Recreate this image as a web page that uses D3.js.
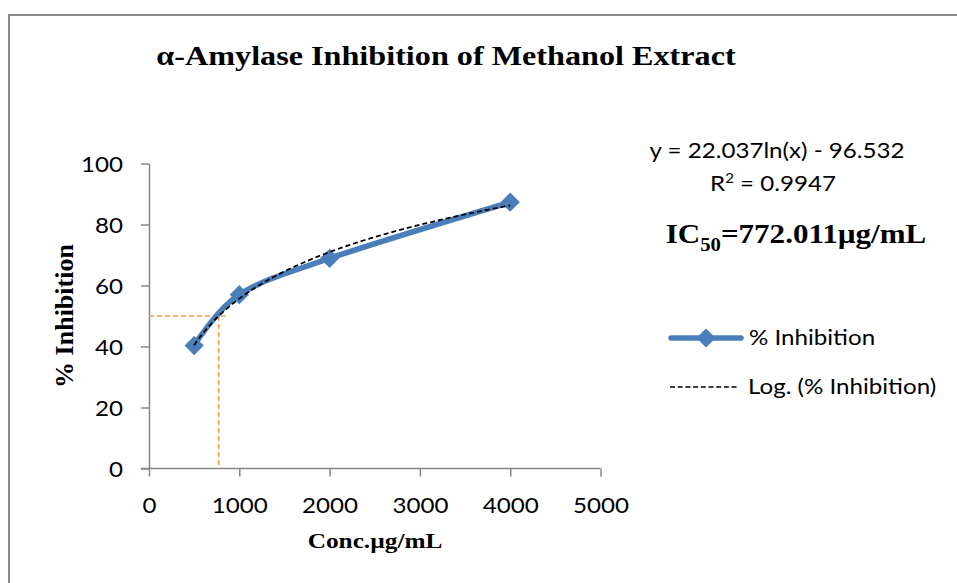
<!DOCTYPE html>
<html>
<head>
<meta charset="utf-8">
<script src="https://cdn.jsdelivr.net/npm/d3@7"></script>
<style>
  html, body { margin: 0; padding: 0; background: #fff; }
  svg { display: block; }
</style>
</head>
<body>
<svg id="chart" width="957" height="583"></svg>
<script>
// Concentrations tested (µg/mL) and measured inhibition (%)
const concentrations = [500, 1000, 2000, 4000];
const inhibition = [40.3, 57.0, 68.9, 87.3];

// Logarithmic trendline coefficients: y = a·ln(x) + b
const trendA = 22.037;
const trendB = -96.532;
const rSquared = 0.9947;

// IC50 guide lines
const ic50 = 772.011;
const ic50Level = 50;

const xTicks = [0, 1000, 2000, 3000, 4000, 5000];
const yTicks = [0, 20, 40, 60, 80, 100];

const svg = d3.select("#chart");
const sansFont = "Lato, Open Sans, sans-serif";
const serifFont = "Liberation Serif, Times New Roman, serif";
const stretch = 1.15;
const sansStretch = 1.15;
const sansSize = 21;

// chart frame
svg.append("rect")
  .attr("x", 9).attr("y", 15)
  .attr("width", 960).attr("height", 580)
  .attr("fill", "#fff")
  .attr("stroke", "#8a8a8a")
  .attr("stroke-width", 2);

const x = d3.scaleLinear().domain([0, 5000]).range([149, 600.5]);
const y = d3.scaleLinear().domain([0, 100]).range([468.5, 163.5]);

// helper for horizontally widened text
function label(txt, px, py, opts) {
  const g = svg.append("g").attr("transform", `translate(${px},${py}) scale(${opts.sx || 1},1)`);
  const t = g.append("text")
    .attr("text-anchor", opts.anchor || "middle")
    .attr("font-family", opts.font)
    .attr("font-size", opts.size)
    .attr("font-weight", opts.weight || "normal")
    .attr("fill", "#000");
  if (opts.rotate) t.attr("transform", `rotate(${opts.rotate})`);
  t.text(txt);
  return t;
}

// title
label("α-Amylase Inhibition of Methanol Extract", 446, 65,
  { font: serifFont, size: 28, weight: "bold", sx: stretch });

// axes
const axisColor = "#868686";
const xAxis = svg.append("g")
  .attr("transform", `translate(0,${y(0)})`)
  .call(d3.axisBottom(x).tickValues(xTicks).tickSize(8).tickSizeOuter(0).tickFormat(d3.format("d")));
const yAxis = svg.append("g")
  .attr("transform", `translate(${x(0)},0)`)
  .call(d3.axisLeft(y).tickValues(yTicks).tickSize(8).tickSizeOuter(0).tickFormat(d3.format("d")));

[xAxis, yAxis].forEach(a => {
  a.select(".domain").attr("stroke", axisColor).attr("stroke-width", 1.5);
  a.selectAll(".tick line").attr("stroke", axisColor).attr("stroke-width", 1.5);
  a.selectAll(".tick text")
    .attr("font-family", sansFont)
    .attr("font-size", sansSize)
    .attr("fill", "#000");
});
// widen tick labels around their own anchor points
xAxis.selectAll(".tick text")
  .attr("dy", null).attr("y", null)
  .attr("transform", `translate(0,44) scale(${sansStretch},1)`);
yAxis.selectAll(".tick text")
  .attr("x", null).attr("dy", "0.36em")
  .attr("transform", `translate(-26,0) scale(${sansStretch},1)`);
// extend x axis line to the left of the y axis, as the 0 tick
xAxis.select(".domain").attr("d", `M${x(0) - 8},0H${x(5000)}`);

// axis titles
label("Conc.µg/mL", 375, 548, { font: serifFont, size: 22, weight: "bold", sx: stretch });
label("% Inhibition", 73, 316, { font: serifFont, size: 26, weight: "bold", rotate: -90, sx: 1 });

// IC50 guide lines
const orange = "#F79646";
svg.append("path")
  .attr("d", `M${x(0)},${y(ic50Level)}H${x(ic50) + 7}`)
  .attr("stroke", orange).attr("stroke-width", 1.6).attr("stroke-dasharray", "5,3").attr("fill", "none");
svg.append("path")
  .attr("d", `M${x(ic50)},${y(ic50Level)}V${y(0)}`)
  .attr("stroke", orange).attr("stroke-width", 1.6).attr("stroke-dasharray", "5,3").attr("fill", "none");

// data series (smoothed line)
const data = concentrations.map((c, i) => ({ c, v: inhibition[i] }));
const blue = "#4A7EBB";
svg.append("path")
  .datum(data)
  .attr("fill", "none")
  .attr("stroke", blue)
  .attr("stroke-width", 5.5)
  .attr("stroke-linejoin", "round")
  .attr("stroke-linecap", "round")
  .attr("d", d3.line().x(d => x(d.c)).y(d => y(d.v)).curve(d3.curveCardinal.tension(0)));

const diamond = d3.symbol().type(d3.symbolSquare).size(185);
svg.append("g").selectAll("path")
  .data(data)
  .join("path")
  .attr("d", diamond)
  .attr("transform", d => `translate(${x(d.c)},${y(d.v)}) rotate(45)`)
  .attr("fill", blue);

// logarithmic trendline
const trendXs = d3.range(500, 4000.1, 25);
svg.append("path")
  .datum(trendXs)
  .attr("fill", "none")
  .attr("stroke", "#000")
  .attr("stroke-width", 1.8)
  .attr("stroke-dasharray", "5,3")
  .attr("d", d3.line().x(d => x(d)).y(d => y(trendA * Math.log(d) + trendB)));

// equation and R²
const eqSign = trendB < 0 ? " - " : " + ";
label(`y = ${trendA.toFixed(3)}ln(x)${eqSign}${Math.abs(trendB).toFixed(3)}`, 777, 158,
  { font: sansFont, size: sansSize, sx: sansStretch });
const r2 = label("", 773, 191, { font: sansFont, size: sansSize, sx: sansStretch });
r2.append("tspan").text("R");
r2.append("tspan").attr("font-size", 13).attr("dy", -8).text("2");
r2.append("tspan").attr("dy", 8).text(` = ${rSquared}`);

// IC50 annotation
const ic = label("", 796, 243, { font: serifFont, size: 27, weight: "bold", sx: stretch });
ic.append("tspan").text("IC");
ic.append("tspan").attr("font-size", 18).attr("dy", 8).text("50");
ic.append("tspan").attr("dy", -8).text(`=${ic50.toFixed(3)}µg/mL`);

// legend
const lg = svg.append("g");
lg.append("line")
  .attr("x1", 671).attr("x2", 741).attr("y1", 338).attr("y2", 338)
  .attr("stroke", blue).attr("stroke-width", 5.5).attr("stroke-linecap", "round");
lg.append("path")
  .attr("d", diamond)
  .attr("transform", "translate(706,338) rotate(45)")
  .attr("fill", blue);
label("% Inhibition", 749, 345, { font: sansFont, size: sansSize, anchor: "start", sx: sansStretch });
lg.append("line")
  .attr("x1", 670).attr("x2", 739).attr("y1", 387).attr("y2", 387)
  .attr("stroke", "#000").attr("stroke-width", 1.5).attr("stroke-dasharray", "5,2.7");
label("Log. (% Inhibition)", 748, 394, { font: sansFont, size: sansSize, anchor: "start", sx: sansStretch });
</script>
</body>
</html>
